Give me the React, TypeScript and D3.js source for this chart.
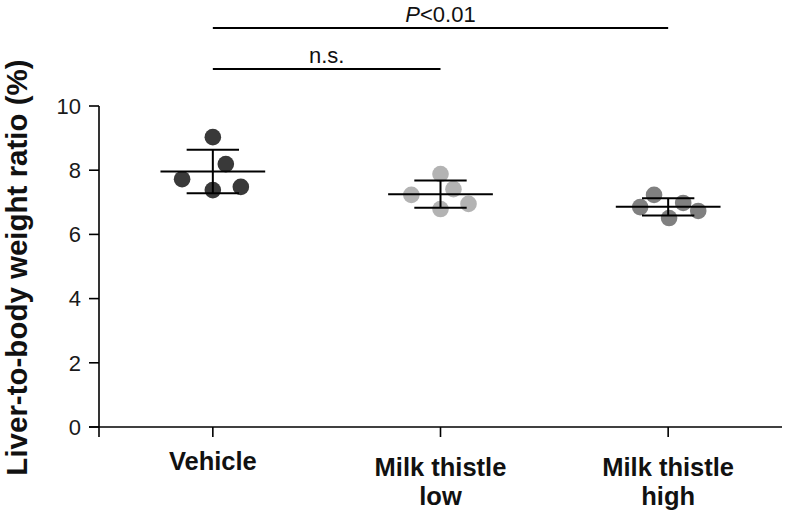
import React from "react";
import * as d3 from "d3";

const categories = ["Vehicle", "Milk thistle low", "Milk thistle high"];
const labelLines = [["Vehicle"], ["Milk thistle", "low"], ["Milk thistle", "high"]];
const vehicleValues = [9.03, 8.19, 7.72, 7.38, 7.48];
const lowValues = [7.88, 7.41, 7.23, 6.79, 6.95];
const highValues = [7.23, 6.85, 6.51, 6.98, 6.73];
const vehicleJitter = [0, 0.057, -0.135, 0, 0.123];
const lowJitter = [0, 0.057, -0.128, 0, 0.123];
const highJitter = [-0.062, -0.123, 0.004, 0.066, 0.132];
const colors = ["#393939", "#b3b3b3", "#808080"];
const yTicks = [0, 2, 4, 6, 8, 10];
const sigLabels = ["n.s.", "<0.01"];

const W = 786, H = 516;
const FONT = "'Liberation Sans', Arial, sans-serif";

export default function App() {
  const x = d3.scaleLinear().domain([-0.5, 2.5]).range([99, 782]);
  const y = d3.scaleLinear().domain([0, 10]).range([427, 106]);
  const groups = [
    { values: vehicleValues, jitter: vehicleJitter },
    { values: lowValues, jitter: lowJitter },
    { values: highValues, jitter: highJitter },
  ];
  const meanHalf = 0.23;
  const capHalf = 0.115;
  const sigTopY = 28;
  const sigLowY = 69;

  return (
    <svg width={W} height={H} style={{ position: "absolute", left: 0, top: 0, background: "#fff" }} fontFamily={FONT}>
      {/* axes */}
      <line x1={x(-0.5)} x2={x(-0.5)} y1={y(10)} y2={y(0) + 10} stroke="#000" strokeWidth={1.6} />
      <line x1={x(-0.5) - 10} x2={x(2.5)} y1={y(0)} y2={y(0)} stroke="#000" strokeWidth={1.6} />
      {yTicks.map((t) => (
        <g key={t}>
          <line x1={x(-0.5) - 10} x2={x(-0.5)} y1={y(t)} y2={y(t)} stroke="#000" strokeWidth={1.6} />
          <text x={x(-0.5) - 18} y={y(t)} dy="0.35em" textAnchor="end" fontSize={22} fill="#1a1a1a">{t}</text>
        </g>
      ))}
      {categories.map((c, i) => (
        <g key={c}>
          <line x1={x(i)} x2={x(i)} y1={y(0)} y2={y(0) + 10} stroke="#000" strokeWidth={1.6} />
          {labelLines[i].map((ln, j) => (
            <text key={j} x={x(i)} y={(labelLines[i].length === 1 ? 470 : 476) + j * 29} textAnchor="middle" fontSize={25.5} fontWeight="bold" fill="#111">{ln}</text>
          ))}
        </g>
      ))}
      {/* y title */}
      <text transform={`translate(27,267.5) rotate(-90)`} textAnchor="middle" fontSize={29.5} fontWeight="bold" fill="#111">Liver-to-body weight ratio (%)</text>

      {/* groups */}
      {groups.map((g, i) => {
        const m = d3.mean(g.values) as number;
        const sd = d3.deviation(g.values) as number;
        return (
          <g key={i}>
            {g.values.map((v, k) => (
              <circle key={k} cx={x(i + g.jitter[k])} cy={y(v)} r={8.3} fill={colors[i]} />
            ))}
            <line x1={x(i)} x2={x(i)} y1={y(m + sd)} y2={y(m - sd)} stroke="#000" strokeWidth={2} />
            <line x1={x(i - capHalf)} x2={x(i + capHalf)} y1={y(m + sd)} y2={y(m + sd)} stroke="#000" strokeWidth={2} />
            <line x1={x(i - capHalf)} x2={x(i + capHalf)} y1={y(m - sd)} y2={y(m - sd)} stroke="#000" strokeWidth={2} />
            <line x1={x(i - meanHalf)} x2={x(i + meanHalf)} y1={y(m)} y2={y(m)} stroke="#000" strokeWidth={2} />
          </g>
        );
      })}

      {/* significance */}
      <line x1={x(0)} x2={x(2)} y1={sigTopY} y2={sigTopY} stroke="#000" strokeWidth={2} />
      <text x={(x(0) + x(2)) / 2} y={sigTopY - 6} textAnchor="middle" fontSize={22} fill="#111">
        <tspan fontStyle="italic">P</tspan>{sigLabels[1]}
      </text>
      <line x1={x(0)} x2={x(1)} y1={sigLowY} y2={sigLowY} stroke="#000" strokeWidth={2} />
      <text x={(x(0) + x(1)) / 2} y={sigLowY - 6} textAnchor="middle" fontSize={22} fill="#111">{sigLabels[0]}</text>
    </svg>
  );
}
